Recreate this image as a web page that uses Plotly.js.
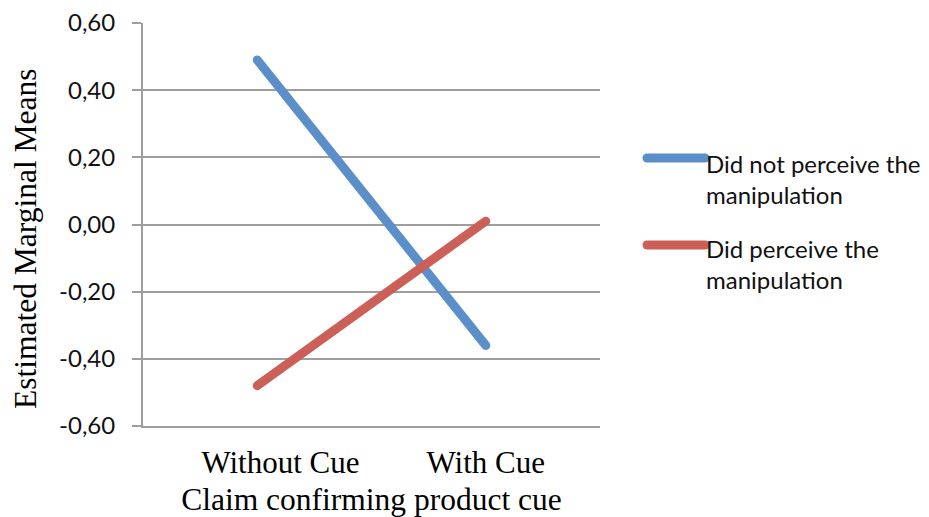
<!DOCTYPE html>
<html>
<head>
<meta charset="utf-8">
<script src="https://cdn.plot.ly/plotly-3.0.1.min.js"></script>
<style>
  html, body { margin: 0; padding: 0; background: #fff; }
  #chart { width: 929px; height: 517px; }
  .scatterlayer .js-line { stroke-linecap: round; }
  .shapelayer path { stroke-linecap: round; }
</style>
</head>
<body>
<div id="chart"></div>
<script>
// Estimated marginal means by cue condition
const categories = ['Without Cue', 'With Cue'];
const categoryLabels = ['\u00a0\u00a0\u00a0\u00a0\u00a0\u00a0Without Cue', 'With Cue'];
const seriesNames = ['Did not perceive the<br>manipulation', 'Did perceive the<br>manipulation'];
const notPerceived = [0.49, -0.36];
const perceived = [-0.48, 0.01];
const yTicks = [-0.6, -0.4, -0.2, 0, 0.2, 0.4, 0.6];
const yTickLabels = ['-0,60', '-0,40', '-0,20', '0,00', '0,20', '0,40', '0,60'];

const colors = ['#5b8fc9', '#cc6058'];
const gridColor = '#9e9e9e';
const serif = 'Liberation Serif, Times New Roman, serif';
const sans = 'Lato, Noto Sans, sans-serif';

const traces = [notPerceived, perceived].map((vals, i) => ({
  type: 'scatter',
  mode: 'lines',
  x: categories,
  y: vals,
  name: seriesNames[i],
  line: { color: colors[i], width: 9 },
  hoverinfo: 'x+y'
}));

// Legend swatches and labels at the right of the plot
const legendY = [0.665, 0.449];
const legendTextY = [0.613, 0.403];
const shapes = seriesNames.map((n, i) => ({
  type: 'line', xref: 'paper', yref: 'paper',
  x0: 1.1028, x1: 1.2298, y0: legendY[i], y1: legendY[i],
  line: { color: colors[i], width: 9 }
}));
const annotations = seriesNames.map((n, i) => ({
  xref: 'paper', yref: 'paper', x: 1.228, y: legendTextY[i],
  xanchor: 'left', yanchor: 'middle', align: 'left',
  text: n, showarrow: false,
  font: { family: sans, size: 24, color: '#111' }
}));
annotations.push({
  xref: 'paper', yref: 'paper', x: -0.2582, y: 0.464,
  xanchor: 'center', yanchor: 'middle', textangle: -90,
  text: 'Estimated Marginal Means', showarrow: false,
  font: { family: serif, size: 31.5, color: '#000' }
});

const layout = {
  width: 929, height: 517,
  margin: { l: 143, r: 329, t: 23, b: 91, pad: 0 },
  paper_bgcolor: '#fff', plot_bgcolor: '#fff',
  separators: ', ',
  showlegend: false,
  xaxis: {
    type: 'category',
    range: [-0.5, 1.5],
    tickvals: categories,
    ticktext: categoryLabels,
    showgrid: false,
    zeroline: false,
    showline: true, linecolor: gridColor, linewidth: 2,
    ticks: '',
    ticklabelstandoff: 8,
    tickfont: { family: serif, size: 31, color: '#000' },
    title: { text: 'Claim confirming product cue', font: { family: serif, size: 31.5, color: '#000' }, standoff: 9 },
    fixedrange: true
  },
  yaxis: {
    range: [-0.6, 0.6],
    tickvals: yTicks,
    ticktext: yTickLabels,
    showgrid: true, gridcolor: gridColor, gridwidth: 2,
    zeroline: false,
    showline: true, linecolor: gridColor, linewidth: 2,
    ticks: 'outside', ticklen: 9, tickcolor: gridColor, tickwidth: 2,
    ticklabelstandoff: 12,
    tickfont: { family: sans, size: 24, color: '#111' },
    fixedrange: true
  },
  shapes: shapes,
  annotations: annotations
};

Plotly.newPlot('chart', traces, layout, { displayModeBar: false, staticPlot: true });
</script>
</body>
</html>
